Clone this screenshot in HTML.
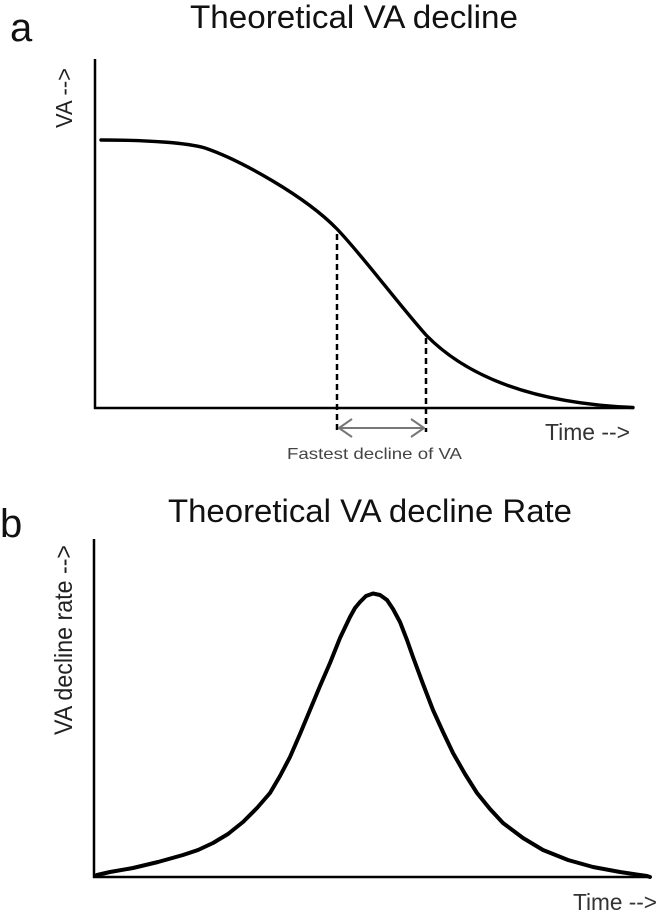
<!DOCTYPE html>
<html>
<head>
<meta charset="utf-8">
<style>
  html, body { margin: 0; padding: 0; background: #ffffff; }
  svg { display: block; }
  text { font-family: "Liberation Sans", Arial, sans-serif; }
</style>
</head>
<body>
<svg width="660" height="915" viewBox="0 0 660 915" xmlns="http://www.w3.org/2000/svg">
  <rect x="0" y="0" width="660" height="915" fill="#ffffff"/>

  <!-- ===== Panel a ===== -->
  <text x="10" y="41" font-size="40" fill="#111">a</text>
  <text x="190" y="28" font-size="32" fill="#111" textLength="328" lengthAdjust="spacingAndGlyphs">Theoretical VA decline</text>

  <!-- axes -->
  <line x1="95" y1="59" x2="95" y2="409" stroke="#000" stroke-width="2.5"/>
  <line x1="94" y1="408" x2="634" y2="408" stroke="#000" stroke-width="2.5"/>

  <!-- y label -->
  <text transform="translate(72,98) rotate(-90)" text-anchor="middle" font-size="23" fill="#222" textLength="60" lengthAdjust="spacingAndGlyphs">VA --&gt;</text>

  <!-- curve -->
  <path fill="none" stroke="#000" stroke-width="3.4" stroke-linejoin="round" stroke-linecap="round"
    d="M101,140 C150,140 188,143 205,148 C240,160 305,196 337,229 C362,255 395,300 426,335 C465,375 530,403 633,407.5"/>

  <!-- dashed guides -->
  <line x1="337" y1="234" x2="337" y2="432" stroke="#000" stroke-width="2.5" stroke-dasharray="6,4"/>
  <line x1="426" y1="338" x2="426" y2="432" stroke="#000" stroke-width="2.5" stroke-dasharray="6,4"/>

  <!-- double arrow -->
  <line x1="339" y1="428" x2="424" y2="428" stroke="#777" stroke-width="2"/>
  <polyline points="352,419 339,428 352,437" fill="none" stroke="#777" stroke-width="2" stroke-linejoin="round"/>
  <polyline points="411,419 424,428 411,437" fill="none" stroke="#777" stroke-width="2" stroke-linejoin="round"/>

  <text x="545" y="440" font-size="23" fill="#333" textLength="85" lengthAdjust="spacingAndGlyphs">Time --&gt;</text>
  <text x="287" y="459" font-size="16" fill="#444" textLength="175" lengthAdjust="spacingAndGlyphs">Fastest decline of VA</text>

  <!-- ===== Panel b ===== -->
  <text x="0" y="537" font-size="40" fill="#111">b</text>
  <text x="168" y="522" font-size="32" fill="#111" textLength="404" lengthAdjust="spacingAndGlyphs">Theoretical VA decline Rate</text>

  <!-- axes -->
  <line x1="94" y1="539" x2="94" y2="878" stroke="#000" stroke-width="2.5"/>
  <line x1="93" y1="877" x2="651" y2="877" stroke="#000" stroke-width="2.5"/>

  <!-- y label -->
  <text transform="translate(72,640) rotate(-90)" text-anchor="middle" font-size="25" fill="#222" textLength="190" lengthAdjust="spacingAndGlyphs">VA decline rate --&gt;</text>

  <!-- curve -->
  <polyline fill="none" stroke="#000" stroke-width="4" stroke-linejoin="round" stroke-linecap="round"
    points="97,875 110,872 133,868 158,862 183,855 198,850 213,843 228,834 243,822 257,808 270,793 280,776 290,757 300,734 310,710 320,686 330,663 340,638 350,617 355,608 360,602 366,596 373,593.5 380,595 387,600 393,609 400,622 407,640 413,657 423,684 433,710 443,732 453,753 465,774 477,793 490,809 503,823 523,838 543,850 568,860 593,867 620,872 647,876 650,877"/>

  <text x="573" y="910" font-size="23" fill="#333" textLength="84" lengthAdjust="spacingAndGlyphs">Time --&gt;</text>
</svg>
</body>
</html>
